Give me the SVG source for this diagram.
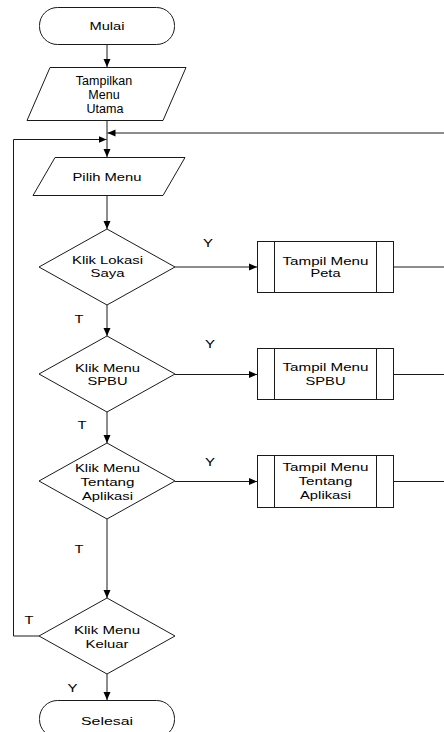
<svg xmlns="http://www.w3.org/2000/svg" width="444" height="732" viewBox="0 0 444 732">
<style>
.s{fill:#fff;stroke:#1a1a1a;stroke-width:1}
.l{fill:none;stroke:#1a1a1a;stroke-width:1}
.t{font-family:"Liberation Sans",Arial,sans-serif;font-size:11.5px;fill:#000;text-anchor:middle}
.n{font-size:12.5px}
</style>
<defs>
<marker id="ah" markerUnits="userSpaceOnUse" markerWidth="9" markerHeight="8" refX="8" refY="4" orient="auto">
<path d="M0,0.5 L8,4 L0,7.5 z" fill="#000"/>
</marker>
</defs>
<rect width="444" height="732" fill="#fff"/>
<g id="connectors">
<line class="l" x1="107" y1="44" x2="107" y2="67" marker-end="url(#ah)"/>
<line class="l" x1="107" y1="121" x2="107" y2="157" marker-end="url(#ah)"/>
<polyline class="l" points="444,133 107.5,133" marker-end="url(#ah)"/>
<polyline class="l" points="39,636 13.5,636 13.5,139.5 106.5,139.5" marker-end="url(#ah)"/>
<line class="l" x1="107" y1="195" x2="107" y2="229" marker-end="url(#ah)"/>
<line class="l" x1="107" y1="305" x2="107" y2="336" marker-end="url(#ah)"/>
<line class="l" x1="107" y1="412" x2="107" y2="443" marker-end="url(#ah)"/>
<line class="l" x1="107" y1="519" x2="107" y2="598" marker-end="url(#ah)"/>
<line class="l" x1="107" y1="674" x2="107" y2="700" marker-end="url(#ah)"/>
<line class="l" x1="175" y1="267" x2="257" y2="267" marker-end="url(#ah)"/>
<line class="l" x1="175" y1="374.5" x2="257" y2="374.5" marker-end="url(#ah)"/>
<line class="l" x1="175" y1="481.5" x2="257" y2="481.5" marker-end="url(#ah)"/>
<line class="l" x1="394" y1="267" x2="444" y2="267"/>
<line class="l" x1="394" y1="374.5" x2="444" y2="374.5"/>
<line class="l" x1="394" y1="481.5" x2="444" y2="481.5"/>
<text class="t" x="208" y="247" textLength="10" lengthAdjust="spacingAndGlyphs">Y</text>
<text class="t" x="210" y="348" textLength="10" lengthAdjust="spacingAndGlyphs">Y</text>
<text class="t" x="210" y="466" textLength="10" lengthAdjust="spacingAndGlyphs">Y</text>
<text class="t" x="79" y="322.5" textLength="9" lengthAdjust="spacingAndGlyphs">T</text>
<text class="t" x="82" y="429" textLength="9" lengthAdjust="spacingAndGlyphs">T</text>
<text class="t" x="79" y="552.5" textLength="9" lengthAdjust="spacingAndGlyphs">T</text>
<text class="t" x="29" y="624" textLength="9" lengthAdjust="spacingAndGlyphs">T</text>
<text class="t" x="72.5" y="691.5" textLength="10" lengthAdjust="spacingAndGlyphs">Y</text>
</g>
<g id="mulai">
<rect class="s" x="39.5" y="7.5" width="135" height="37" rx="18" ry="18"/>
<text class="t" x="107" y="29.5" textLength="35" lengthAdjust="spacingAndGlyphs">Mulai</text>
</g>
<g id="tampilkan-menu-utama">
<polygon class="s" points="50,67.5 186,67.5 163,120.5 27,120.5"/>
<text class="t n" x="104" y="85">Tampilkan</text>
<text class="t n" x="104" y="99">Menu</text>
<text class="t n" x="105" y="112.5">Utama</text>
</g>
<g id="pilih-menu">
<polygon class="s" points="55,157.5 185,157.5 163,195.5 33,195.5"/>
<text class="t" x="107" y="181" textLength="69" lengthAdjust="spacingAndGlyphs">Pilih Menu</text>
</g>
<g id="klik-lokasi-saya">
<polygon class="s" points="107,229 175,267 107,305 39,267"/>
<text class="t" x="107.5" y="264" textLength="71" lengthAdjust="spacingAndGlyphs">Klik Lokasi</text>
<text class="t" x="107.5" y="276.5" textLength="34" lengthAdjust="spacingAndGlyphs">Saya</text>
</g>
<g id="klik-menu-spbu">
<polygon class="s" points="107,336 175,374 107,412 39,374"/>
<text class="t" x="107.5" y="371.5" textLength="65" lengthAdjust="spacingAndGlyphs">Klik Menu</text>
<text class="t" x="107.5" y="385" textLength="40" lengthAdjust="spacingAndGlyphs">SPBU</text>
</g>
<g id="klik-menu-tentang-aplikasi">
<polygon class="s" points="107,443 175,481 107,519 39,481"/>
<text class="t" x="107.5" y="471.5" textLength="65" lengthAdjust="spacingAndGlyphs">Klik Menu</text>
<text class="t" x="107.5" y="485.5" textLength="54" lengthAdjust="spacingAndGlyphs">Tentang</text>
<text class="t" x="107.5" y="499.5" textLength="51" lengthAdjust="spacingAndGlyphs">Aplikasi</text>
</g>
<g id="klik-menu-keluar">
<polygon class="s" points="107,598 175,636 107,674 39,636"/>
<text class="t" x="107" y="634" textLength="66" lengthAdjust="spacingAndGlyphs">Klik Menu</text>
<text class="t" x="107" y="647.5" textLength="43" lengthAdjust="spacingAndGlyphs">Keluar</text>
</g>
<g id="selesai">
<rect class="s" x="39.5" y="700.5" width="135" height="37" rx="18" ry="18"/>
<text class="t" x="107" y="724.5" textLength="52" lengthAdjust="spacingAndGlyphs">Selesai</text>
</g>
<g id="tampil-menu-peta">
<rect class="s" x="257.5" y="241.5" width="136" height="51"/>
<line class="l" x1="274.5" y1="241.5" x2="274.5" y2="292.5"/>
<line class="l" x1="376.5" y1="241.5" x2="376.5" y2="292.5"/>
<text class="t" x="325.5" y="264.5" textLength="86" lengthAdjust="spacingAndGlyphs">Tampil Menu</text>
<text class="t" x="325.5" y="276.5" textLength="30" lengthAdjust="spacingAndGlyphs">Peta</text>
</g>
<g id="tampil-menu-spbu">
<rect class="s" x="257.5" y="348.5" width="136" height="51"/>
<line class="l" x1="274.5" y1="348.5" x2="274.5" y2="399.5"/>
<line class="l" x1="376.5" y1="348.5" x2="376.5" y2="399.5"/>
<text class="t" x="325.5" y="371" textLength="86" lengthAdjust="spacingAndGlyphs">Tampil Menu</text>
<text class="t" x="325.5" y="385" textLength="40" lengthAdjust="spacingAndGlyphs">SPBU</text>
</g>
<g id="tampil-menu-tentang-aplikasi">
<rect class="s" x="257.5" y="455.5" width="136" height="52"/>
<line class="l" x1="274.5" y1="455.5" x2="274.5" y2="507.5"/>
<line class="l" x1="376.5" y1="455.5" x2="376.5" y2="507.5"/>
<text class="t" x="325.5" y="470.5" textLength="86" lengthAdjust="spacingAndGlyphs">Tampil Menu</text>
<text class="t" x="325.5" y="484.5" textLength="54" lengthAdjust="spacingAndGlyphs">Tentang</text>
<text class="t" x="325.5" y="499" textLength="51" lengthAdjust="spacingAndGlyphs">Aplikasi</text>
</g>
</svg>
